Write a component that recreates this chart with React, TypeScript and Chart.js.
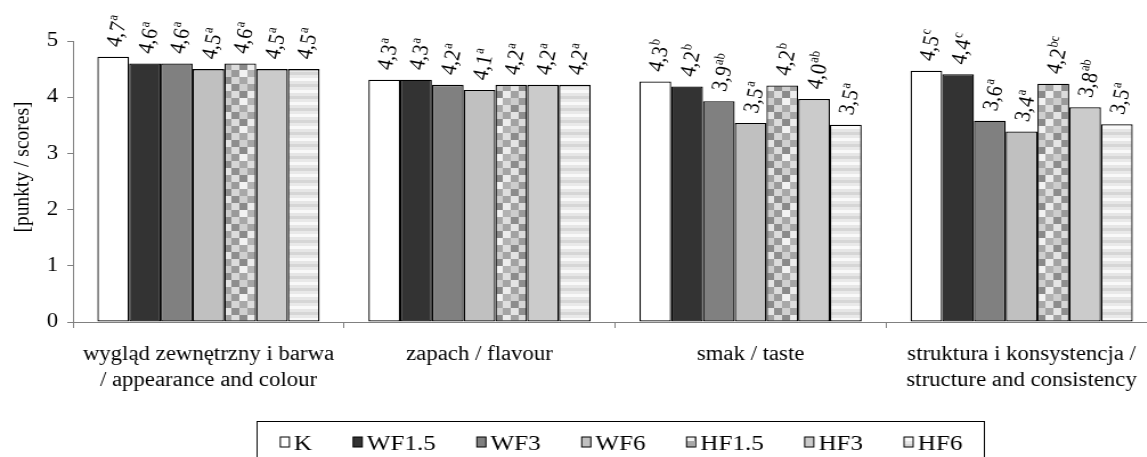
import React, { useEffect, useRef } from "react";
import { Chart, registerables } from "chart.js";

Chart.register(...registerables);

// ---------- data ----------
const categories: (string | string[])[] = [
  ["wygląd zewnętrzny i barwa", "/ appearance and colour"],
  "zapach / flavour",
  "smak / taste",
  ["struktura i konsystencja /", "structure and consistency"],
];

const seriesNames = ["K", "WF1.5", "WF3", "WF6", "HF1.5", "HF3", "HF6"];

const valuesK = [4.72, 4.31, 4.28, 4.47];
const valuesWF15 = [4.6, 4.31, 4.19, 4.41];
const valuesWF3 = [4.6, 4.22, 3.93, 3.58];
const valuesWF6 = [4.5, 4.13, 3.54, 3.39];
const valuesHF15 = [4.6, 4.22, 4.21, 4.24];
const valuesHF3 = [4.5, 4.22, 3.97, 3.82];
const valuesHF6 = [4.5, 4.22, 3.51, 3.52];

const lettersK = ["a", "a", "b", "c"];
const lettersWF15 = ["a", "a", "b", "c"];
const lettersWF3 = ["a", "a", "ab", "a"];
const lettersWF6 = ["a", "a", "a", "a"];
const lettersHF15 = ["a", "a", "b", "bc"];
const lettersHF3 = ["a", "a", "ab", "ab"];
const lettersHF6 = ["a", "a", "a", "a"];

const yTicks = [0, 1, 2, 3, 4, 5];
const yTitle = "[punkty / scores]";

// ---------- styling ----------
const STRETCH = 1.14;
const FONT = "'Liberation Serif', 'Times New Roman', serif";
const W = 1020;
const H = 470;

function makeChecker(): CanvasPattern | string {
  const c = document.createElement("canvas");
  const cell = 7;
  const m = [
    ["#e4e4e4", "#8e8e8e", "#cfcfcf", "#a4a4a4"],
    ["#a2a2a2", "#dcdcdc", "#8a8a8a", "#ececec"],
    ["#cdcdcd", "#9a9a9a", "#f2f2f2", "#b2b2b2"],
    ["#8c8c8c", "#d6d6d6", "#a8a8a8", "#dedede"],
  ];
  c.width = cell * 4;
  c.height = cell * 4;
  const g = c.getContext("2d")!;
  for (let r = 0; r < 4; r++)
    for (let k = 0; k < 4; k++) {
      g.fillStyle = m[r][k];
      g.fillRect(k * cell, r * cell, cell, cell);
    }
  return g.createPattern(c, "repeat") || "#bbbbbb";
}

function makeStripes(): CanvasPattern | string {
  const c = document.createElement("canvas");
  c.width = 4;
  c.height = 12;
  const g = c.getContext("2d")!;
  const bands = ["#d6d6d6", "#e9e9e9", "#f9f9f9", "#e6e6e6"];
  bands.forEach((col, i) => {
    g.fillStyle = col;
    g.fillRect(0, i * 3, 4, 3);
  });
  return g.createPattern(c, "repeat") || "#e6e6e6";
}

export default function App() {
  const ref = useRef<HTMLCanvasElement | null>(null);

  useEffect(() => {
    if (!ref.current) return;
    const checker = makeChecker();
    const stripes = makeStripes();

    const seriesValues = [valuesK, valuesWF15, valuesWF3, valuesWF6, valuesHF15, valuesHF3, valuesHF6];
    const seriesLetters = [lettersK, lettersWF15, lettersWF3, lettersWF6, lettersHF15, lettersHF3, lettersHF6];
    const fills: (string | CanvasPattern)[] = ["#ffffff", "#333333", "#808080", "#c0c0c0", checker, "#cbcbcb", stripes];

    const valueLabels = {
      id: "valueLabels",
      afterDatasetsDraw(chart: any) {
        const ctx = chart.ctx as CanvasRenderingContext2D;
        chart.data.datasets.forEach((ds: any, i: number) => {
          const meta = chart.getDatasetMeta(i);
          meta.data.forEach((bar: any, j: number) => {
            const v = ds.data[j] as number;
            const main = v.toFixed(1).replace(".", ",");
            const sup = seriesLetters[i][j];
            ctx.save();
            ctx.translate(bar.x + 6, bar.y - 9);
            ctx.rotate((-78 * Math.PI) / 180);
            ctx.fillStyle = "#000";
            ctx.textAlign = "left";
            ctx.textBaseline = "alphabetic";
            ctx.font = `20px ${FONT}`;
            ctx.fillText(main, 0, 0);
            const w = ctx.measureText(main).width;
            ctx.font = `12.5px ${FONT}`;
            ctx.fillText(sup, w + 0.5, -8.5);
            ctx.restore();
          });
        });
      },
    };

    const titleAndLegend = {
      id: "titleAndLegend",
      afterDraw(chart: any) {
        const ctx = chart.ctx as CanvasRenderingContext2D;
        // y axis title
        ctx.save();
        ctx.translate(20, 167);
        ctx.rotate(-Math.PI / 2);
        ctx.font = `19.5px ${FONT}`;
        ctx.fillStyle = "#000";
        ctx.textAlign = "center";
        ctx.textBaseline = "middle";
        ctx.fillText(yTitle, 0, 0);
        ctx.restore();

        // legend
        ctx.save();
        ctx.font = `22px ${FONT}`;
        const marker = 8;
        const gapText = 4;
        const gapItem = 36;
        const widths = seriesNames.map((n) => ctx.measureText(n).width);
        const total =
          widths.reduce((a, w) => a + marker + gapText + w, 0) + gapItem * (seriesNames.length - 1);
        const cx = 545;
        let x = cx - total / 2;
        const frameL = x - 21;
        const frameR = x + total + 19;
        ctx.strokeStyle = "#000";
        ctx.lineWidth = 1;
        ctx.strokeRect(Math.round(frameL) + 0.5, 421.5, Math.round(frameR - frameL), 60);
        ctx.textAlign = "left";
        ctx.textBaseline = "alphabetic";
        seriesNames.forEach((n, i) => {
          ctx.fillStyle = fills[i] as any;
          ctx.fillRect(x, 437, marker, 10);
          ctx.strokeStyle = "#000";
          ctx.lineWidth = 1;
          ctx.strokeRect(x, 437, marker, 10);
          ctx.fillStyle = "#000";
          ctx.fillText(n, x + marker + gapText, 450);
          x += marker + gapText + widths[i] + gapItem;
        });
        ctx.restore();
      },
    };

    const chart = new Chart(ref.current, {
      type: "bar",
      data: {
        labels: categories,
        datasets: seriesNames.map((name, i) => ({
          label: name,
          data: seriesValues[i],
          backgroundColor: fills[i] as any,
          borderColor: "#000000",
          borderWidth: 1.3,
          borderSkipped: false,
          categoryPercentage: 0.82,
          barPercentage: 1.0,
        })),
      },
      options: {
        responsive: false,
        animation: false,
        devicePixelRatio: 1,
        layout: { padding: { top: 41, right: 5, bottom: H - 322 - 70, left: 0 } },
        plugins: {
          legend: { display: false },
          tooltip: { enabled: false },
          title: { display: false },
        },
        scales: {
          x: {
            type: "category",
            offset: true,
            grid: {
              offset: true,
              drawOnChartArea: false,
              drawTicks: true,
              tickLength: 6,
              color: "#808080",
            },
            border: { color: "#808080", width: 1 },
            ticks: {
              color: "#000",
              font: { family: FONT, size: 20, lineHeight: 1.3 },
              padding: 14,
              maxRotation: 0,
              autoSkip: false,
            },
            afterFit: (s: any) => {
              s.height = 70;
            },
          },
          y: {
            min: 0,
            max: 5,
            afterBuildTicks: (s: any) => {
              s.ticks = yTicks.map((v) => ({ value: v }));
            },
            ticks: {
              color: "#000",
              font: { family: FONT, size: 20 },
              padding: 8,
            },
            grid: {
              drawOnChartArea: false,
              drawTicks: true,
              tickLength: 5,
              color: "#808080",
            },
            border: { color: "#808080", width: 1 },
            afterFit: (s: any) => {
              s.width = 64;
            },
          },
        },
      },
      plugins: [valueLabels, titleAndLegend],
    });
    return () => chart.destroy();
  }, []);

  return (
    <div
      style={{
        position: "absolute",
        left: 0,
        top: 0,
        width: 1147,
        height: 457,
        overflow: "hidden",
        background: "#fff",
      }}
    >
      <div style={{ transform: `scaleX(${STRETCH})`, transformOrigin: "0 0", width: W, height: H }}>
        <canvas ref={ref} width={W} height={H} style={{ display: "block" }} />
      </div>
    </div>
  );
}
